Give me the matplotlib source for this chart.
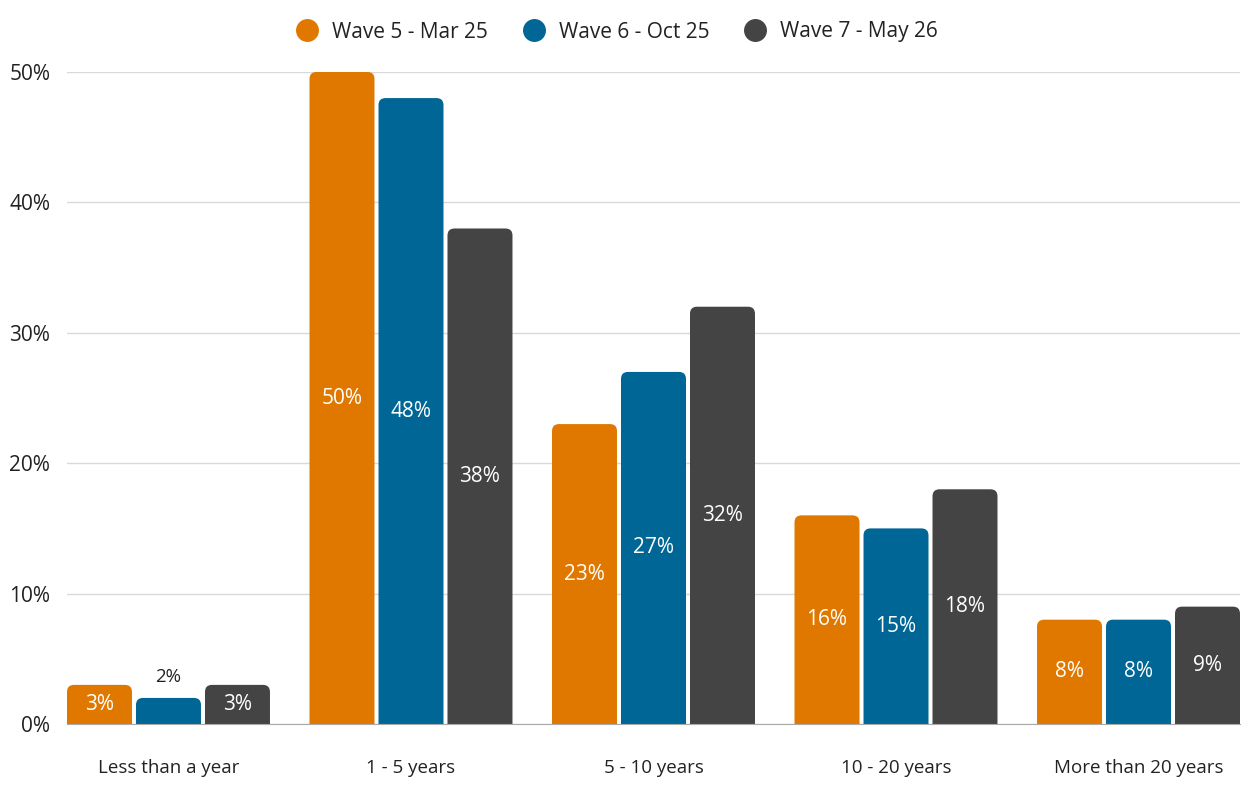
import matplotlib.pyplot as plt
from matplotlib.patches import FancyBboxPatch
from matplotlib.lines import Line2D
import numpy as np

plt.rcParams['font.family'] = ['Open Sans', 'DejaVu Sans']

categories = ["Less than a year", "1 - 5 years", "5 - 10 years", "10 - 20 years", "More than 20 years"]
series_names = ["Wave 5 - Mar 25", "Wave 6 - Oct 25", "Wave 7 - May 26"]
wave5 = [3, 50, 23, 16, 8]
wave6 = [2, 48, 27, 15, 8]
wave7 = [3, 38, 32, 18, 9]
colors = ["#E07800", "#006695", "#444444"]

W, H = 1253, 787
fig = plt.figure(figsize=(W / 100, H / 100), dpi=100)
ax = fig.add_axes([67 / W, 63 / H, (1240 - 67) / W, (724 - 72) / H])

bar_w = 0.268
step = 0.2845
half = step + bar_w / 2
ax.set_xlim(-half, len(categories) - 1 + half)
ax.set_ylim(0, 50)

# aspect so the rounded corners look round on screen
px_x = (len(categories) - 1 + 2 * half) / (1240 - 67)
px_y = 50 / (724 - 72)
aspect = px_y / px_x
rad = 7 * px_x

x = np.arange(len(categories))
for i, (vals, col) in enumerate(zip([wave5, wave6, wave7], colors)):
    for xi, v in zip(x + (i - 1) * step, vals):
        p = FancyBboxPatch((xi - bar_w / 2, -3), bar_w, v + 3,
                           boxstyle=f"round,pad=0,rounding_size={rad}",
                           mutation_aspect=aspect, fc=col, ec="none", zorder=3)
        ax.add_patch(p)
        if v < 2.5:
            ax.text(xi, v + 21 * px_y, f"{v}%", ha="center", va="center", fontsize=13.5, color="#222222", zorder=4)
        else:
            ax.text(xi, v / 2, f"{v}%", ha="center", va="center", fontsize=15, color="white", zorder=4)

ax.set_yticks(range(0, 51, 10))
ax.set_yticklabels([f"{t}%" for t in range(0, 51, 10)], fontsize=15, color="#222222")
ax.set_xticks(x)
ax.set_xticklabels(categories, fontsize=13.5, color="#222222")
ax.tick_params(axis="both", length=0)
ax.tick_params(axis="x", pad=25)
ax.tick_params(axis="y", pad=12)
ax.grid(axis="y", color="#d9d9d9", lw=1, zorder=0)
for s in ["top", "right", "left"]:
    ax.spines[s].set_visible(False)
ax.spines["bottom"].set_color("#aaaaaa")
ax.spines["bottom"].set_zorder(5)

handles = [Line2D([], [], marker="o", ls="none", ms=15.5, color=c) for c in colors]
fig.legend(handles, series_names, loc="center", bbox_to_anchor=(612 / W, 1 - 32 / H),
           ncol=3, frameon=False, fontsize=15, handletextpad=0.2, columnspacing=1.2,
           labelcolor="#222222")

fig.savefig("out.png", dpi=100)
